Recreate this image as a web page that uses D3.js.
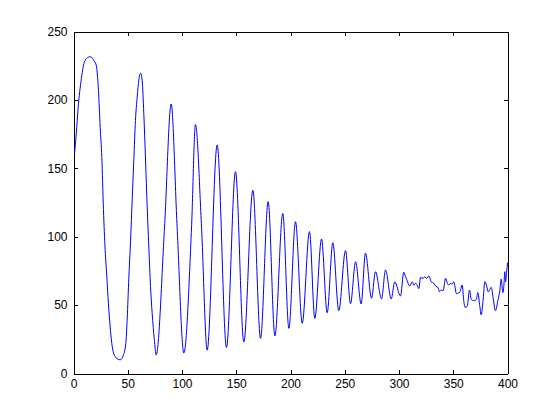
<!DOCTYPE html>
<html>
<head>
<meta charset="utf-8">
<script src="https://cdn.jsdelivr.net/npm/d3@7"></script>
<style>
  body { margin: 0; background: #fff; }
  svg { display: block; }
  .tick text { font-family: "Liberation Sans", Arial, sans-serif; font-size: 12px; fill: #000; }
  .domain, .tick line { stroke: #000; shape-rendering: crispEdges; }
</style>
</head>
<body>
<svg id="chart" width="560" height="420"></svg>
<script>
// ================= DATA ===================
const xTicks = [0, 50, 100, 150, 200, 250, 300, 350, 400];
const yTicks = [0, 50, 100, 150, 200, 250];

// samples (x position, value)
const sampleX = [
  1, 3, 4.6, 6.1, 7.7, 9.2, 10.8, 13, 15, 17, 18.5, 20.9, 23, 24.6, 26.1, 27.6,
  29.2, 30.7, 32.2, 33.8, 35.3, 36.9, 39.9, 43, 46, 48.2, 49.5, 51, 52.6, 54.1,
  55.6, 57.1, 58.7, 60.2, 61.8, 63.3, 64.8, 66.4, 67.9, 69.4, 71, 72.5, 74.5, 76.2,
  83.9, 90, 95.5, 101.7, 108.8, 112.4, 118, 123.2, 132.4, 141, 149.3, 157, 165.3,
  172.4, 179.4, 185.6, 192.9, 198.5, 204.6, 210.8, 217.5, 222.4, 228.6, 233.8,
  239, 244.5, 250.7, 255.3, 260, 265.1, 269.1, 274.7, 278.3, 283.9, 287.6, 292.8,
  296.1, 301.4, 304.4, 306, 310, 312.2, 313.7, 315.2, 316.8, 318.3, 319.8, 322.3,
  323.8, 325.3, 327.5, 329.7, 332.1, 334.3, 335.8, 337.3, 338.9, 340.7, 342.9,
  344.4, 345.9, 347.5, 349, 350.5, 353, 354.6, 356.1, 358.2, 359.8, 360.8, 362.8,
  365, 366.5, 368.4, 369.9, 371.4, 372.6, 374.5, 375.7, 377.6, 379.1, 380.6,
  382.2, 383.7, 385, 386.8, 388.9, 391.1, 392.9, 394.2, 395.7, 396.6, 397.5,
  398.2, 399.2, 400
];
const sampleY = [
  161, 180, 197.5, 208.5, 218, 225.5, 229, 231, 231.5, 231, 229, 225.5, 207, 180, 158, 120,
  90, 71, 51, 34, 22, 15, 11, 10, 13.5, 22, 40, 70, 97, 127,
  156, 185, 202, 214.5, 219.5, 214, 190, 156, 122, 93, 63.5, 44, 25, 13.5,
  107, 197, 107, 15, 107, 182, 107, 17, 167, 19, 147.5, 23, 134,
  25.7, 125.6, 27.4, 117, 33, 111, 36.7, 103.7, 40.3, 98.3, 44.4,
  95.6, 46, 89.8, 51, 81.7, 50.8, 88, 55, 74.4, 54.5, 75.7, 54.5,
  67, 56.7, 74, 71, 64, 67, 64.5, 66, 64.5, 62, 70.3, 69.5,
  70.7, 69.5, 71.3, 67, 66, 63.5, 63, 59.8, 61, 60.5, 69.6,
  66.3, 64.6, 65.8, 65.3, 67, 58.3, 58.8, 59.5, 64.7, 52.5, 48.4, 49,
  61, 54.5, 53.3, 53.3, 54.5, 59.1, 49, 42.8, 54.5, 67.1, 64.6,
  59.7, 61.4, 63, 55, 45.9, 53.3, 60.6, 69, 59.1, 63.5, 74.4,
  67, 74, 81
];

// ================= LAYOUT ===================
const margin = { top: 31.5, right: 52.5, bottom: 46.5, left: 73.5 };
const svg = d3.select("#chart");
const width = +svg.attr("width") - margin.left - margin.right;
const height = +svg.attr("height") - margin.top - margin.bottom;

const g = svg.append("g").attr("transform", `translate(${margin.left},${margin.top})`);

const x = d3.scaleLinear().domain([0, 400]).range([0, width]);
const y = d3.scaleLinear().domain([0, 250]).range([height, 0]);

// ================= AXES (ticks point inward, box on) ===================
g.append("g")
  .attr("transform", `translate(0,${height})`)
  .call(d3.axisBottom(x).tickValues(xTicks).tickSizeInner(-4).tickSizeOuter(0).tickPadding(6));

g.append("g")
  .call(d3.axisTop(x).tickValues(xTicks).tickSizeInner(-4).tickSizeOuter(0).tickFormat(""));

g.append("g")
  .call(d3.axisLeft(y).tickValues(yTicks).tickSizeInner(-4).tickSizeOuter(0).tickPadding(6));

g.append("g")
  .attr("transform", `translate(${width},0)`)
  .call(d3.axisRight(y).tickValues(yTicks).tickSizeInner(-4).tickSizeOuter(0).tickFormat(""));

// ================= TRACE ===================
const points = sampleX.map((v, i) => [v, sampleY[i]]);

const line = d3.line()
  .x((d) => x(d[0]))
  .y((d) => y(d[1]))
  .curve(d3.curveMonotoneX);

g.append("path")
  .datum(points)
  .attr("fill", "none")
  .attr("stroke", "#0000ff")
  .attr("stroke-width", 1)
  .attr("d", line);
</script>
</body>
</html>
